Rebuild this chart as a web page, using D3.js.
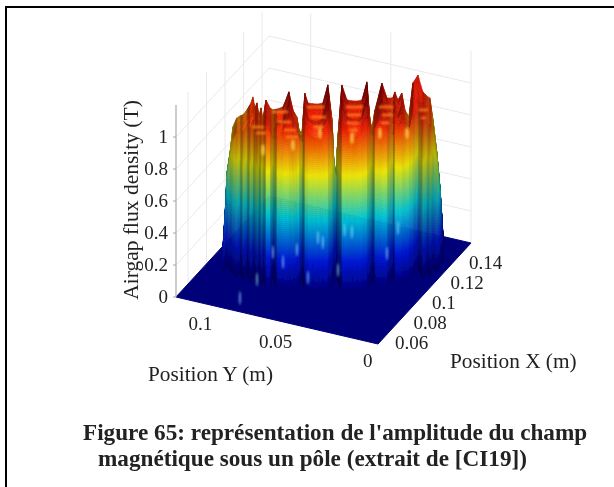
<!DOCTYPE html>
<html><head><meta charset="utf-8">
<script src="https://cdn.jsdelivr.net/npm/d3@7"></script>
<style>html,body{margin:0;padding:0;background:#fff}svg{display:block}text{font-family:"Liberation Serif","Times New Roman",serif;fill:#222}</style>
</head><body>
<svg id="chart" width="614" height="487"></svg>
<script>
// --- axis ranges & ticks ---
const domainX=[0.047,0.1475], domainY=[0,0.126], domainZ=[0,1.2];
const ticksX=[0.06,0.08,0.1,0.12,0.14], ticksY=[0,0.05,0.1], ticksZ=[0,0.2,0.4,0.6,0.8,1];
const colorMaxZ=1.15;
const titleZ="Airgap flux density (T)", titleX="Position X (m)", titleY="Position Y (m)";
const captionLines=["Figure 65: représentation de l'amplitude du champ","magnétique sous un pôle (extrait de [CI19])"];
// --- pole rim (foot of the wall), one entry per station ---
const rimX=[.0764,.0819,.0813,.0794,.0767,.0742,.0797,.0729,.0802,.0726,.0789,.0743,.0715,.0800,.0722,.0775,.0715,.0731,.0811,.0728,.0731,.0743,.0742,.0774,.0786,.0850,.0765,.0763,.0772,.0782,.0791,.0809,.0866,.0927,.0980,.0902,.0827,.0837,.0847,.0856,.0874,.0900,.0946,.0999,.0931,.0936,.0954,.1056,.0994,.1000,.1007,.1030,.1054,.1094,.1169,.1080,.1153,.1118,.1198,.1172,.1227,.1297,.1266];
const rimY=[.1137,.1150,.1140,.1110,.1076,.1037,.1050,.0992,.1009,.0946,.0964,.0925,.0896,.0933,.0875,.0894,.0840,.0824,.0852,.0779,.0743,.0713,.0687,.0681,.0675,.0693,.0626,.0606,.0580,.0554,.0529,.0508,.0515,.0538,.0556,.0499,.0431,.0405,.0380,.0354,.0333,.0317,.0325,.0343,.0285,.0244,.0223,.0245,.0197,.0181,.0161,.0155,.0144,.0142,.0154,.0072,.0089,.0050,.0077,.0038,.0051,.0078,.0054];
// --- depth of each row behind the rim ---
const rowShiftX=[0,.0008,.0049,.0098,.0148,.0197];
const rowShiftY=[0,.0005,.0028,.0057,.0085,.0114];
// --- flux density (T) at rows 1..5 behind the rim, per station ---
const fluxRows=[
[.125,.10,.06,.02,0],[.375,.353,.323,.294,.263],[.563,.537,.504,.471,.437],[.694,.672,.642,.613,.582],[.831,.824,.807,.790,.769],
[.906,.901,.885,.870,.85],[.881,.876,.860,.845,.825],[.925,.925,.915,.904,.888],[.919,.916,.902,.888,.869],[.95,.966,.967,.969,.963],
[.969,.981,.979,.978,.969],[.913,.932,.937,.942,.938],[.981,.997,.998,1.0,.994],[.906,.899,.882,.865,.844],[.95,.966,.967,.969,.963],
[.919,.91,.892,.873,.85],[1.013,1.028,1.03,1.031,1.025],[.963,.977,.977,.977,.969],[.856,.881,.89,.9,.9],[.95,.981,.962,.991,.975],
[.969,1.0,.981,1.01,.994],[1.069,1.086,1.09,1.093,1.088],[1.013,1.015,1.006,.997,.981],[.969,.966,.952,.938,.919],[.913,.899,.878,.856,.831],
[.856,.842,.818,.795,.769],[1.05,1.073,1.081,1.089,1.087],[.994,1.029,1.013,1.045,1.031],[.963,1.006,.996,1.034,1.026],[.956,1.001,.992,1.032,1.025],
[.994,1.029,1.013,1.045,1.031],[1.075,1.106,1.12,1.134,1.138],[.931,.928,.914,.9,.881],[.669,.643,.611,.578,.544],[.594,.568,.536,.503,.469],
[.869,.847,.817,.788,.757],[1.081,1.112,1.126,1.14,1.144],[1.006,1.043,1.028,1.062,1.05],[.963,1.011,1.006,1.049,1.044],[.963,1.011,1.006,1.049,1.044],
[1.0,1.037,1.022,1.056,1.044],[1.063,1.099,1.118,1.137,1.144],[.969,.953,.928,.903,.875],[.881,.861,.833,.805,.775],[.988,.99,.981,.972,.956],
[1.056,1.09,1.108,1.125,1.131],[.975,1.016,1.004,1.041,1.031],[.875,.913,.933,.954,.963],[1.006,1.031,1.04,1.05,1.05],[.956,.993,.978,1.012,1.0],
[1.006,1.029,1.037,1.045,1.043],[.956,.958,.949,.94,.925],[.919,.916,.902,.888,.869],[.994,1.025,1.039,1.053,1.057],[.981,1.015,1.033,1.05,1.056],
[1.006,1.023,1.027,1.03,1.025],[.931,.948,.952,.955,.95],[.938,.958,.965,.971,.969],[.844,.835,.817,.798,.775],[.706,.684,.654,.625,.594],
[.469,.443,.411,.378,.344],[.219,.191,.157,.123,.088],[.138,.11,.076,.04,0]];
// --- bright glints low on the wall ---
const glintX=[.0774,.0782,.0791,.0715,.0584,.0763,.0902,.1000,.0832,.0847,.0954,.0811,.0731];
const glintY=[.0681,.0554,.0529,.0896,.0927,.0606,.0499,.0181,.0418,.0380,.0223,.0852,.0743];
const glintZ=[.24,.34,.31,.04,0,.09,.075,.35,.39,.375,.21,.16,.175];
// --- secondary ridges (orange rungs) across the tooth tops ---
const rungX1=[.0712,.0726,.0735,.0739,.0779,.0787,.0792,.0853,.0855,.0855,.0859,.0916,.0922,.0920,.0674,.0682,.0993,.0996];
const rungY1=[.0795,.0759,.0733,.0723,.0615,.0594,.0579,.0415,.0410,.0410,.0399,.0245,.0230,.0235,.0898,.0877,.0040,.0029];
const rungX2=[.0739,.0745,.0754,.0758,.0808,.0811,.0808,.0882,.0878,.0874,.0872,.0939,.0939,.0932,.0693,.0697,.1006,.1002];
const rungY2=[.0723,.0707,.0682,.0672,.0538,.0528,.0538,.0338,.0348,.0358,.0363,.0184,.0184,.0204,.0846,.0836,.0004,.0014];
const rungZ=[1.113,1.05,1.0,.956,1.144,1.081,1.019,1.144,1.094,1.044,1.0,1.144,1.094,1.044,1.019,.981,1.125,1.075];
// --- warm hot spots just under the tooth tops ---
const hotX=[.0750,.0802,.0863,.0916,.0693,.0968];
const hotY=[.0692,.0553,.0389,.0245,.0846,.0106];
const hotZ=[.906,.981,.95,.981,.875,.981];

// --- scales: oblique projection of the axes box ---
const originPx=378, originPy=344;
const xPx=d3.scaleLinear().domain(domainX).range([0,93]);
const xPy=d3.scaleLinear().domain(domainX).range([0,-101]);
const yPx=d3.scaleLinear().domain(domainY).range([0,-202]);
const yPy=d3.scaleLinear().domain(domainY).range([0,-47]);
const zPy=d3.scaleLinear().domain(domainZ).range([0,-192]);
const project=(X,Y,Z)=>[originPx+xPx(X)+yPx(Y), originPy+xPy(X)+yPy(Y)+zPy(Z)];
const jet=d3.scaleLinear().domain([0,.16,.39,.63,.87,1].map(d=>d*colorMaxZ))
  .range(["#000078","#0018d8","#00c8d8","#f0e800","#f02000","#a00000"]).clamp(true);

const svg=d3.select("#chart");
const defs=svg.append("defs");
const blurFilter=(id,sd)=>defs.append("filter").attr("id",id).attr("x","-20%").attr("y","-20%").attr("width","140%").attr("height","140%")
  .append("feGaussianBlur").attr("stdDeviation",sd);
blurFilter("soft",.75);blurFilter("softer",.35);blurFilter("rung",.9);
defs.append("filter").attr("id","glow").attr("x","-300%").attr("y","-100%").attr("width","700%").attr("height","300%")
  .append("feGaussianBlur").attr("stdDeviation",1.0);
defs.append("clipPath").attr("id","frameClip").append("rect").attr("x",7).attr("y",9).attr("width",607).attr("height",478);

svg.append("rect").attr("x",0).attr("y",0).attr("width",614).attr("height",487).attr("fill","#fff");
svg.append("line").attr("x1",6).attr("x2",6).attr("y1",6).attr("y2",487).attr("stroke","#000").attr("stroke-width",2);
svg.append("line").attr("x1",5).attr("x2",614).attr("y1",7).attr("y2",7).attr("stroke","#000").attr("stroke-width",2);

// grid on the two back walls
const grid=svg.append("g").attr("clip-path","url(#frameClip)").append("g").attr("filter","url(#softer)")
  .attr("stroke","#e9e9e9").attr("stroke-width",1).attr("fill","none");
const seg=(a,b)=>grid.append("line").attr("x1",a[0]).attr("y1",a[1]).attr("x2",b[0]).attr("y2",b[1]);
ticksX.forEach(x=>seg(project(x,domainY[1],0),project(x,domainY[1],domainZ[1])));
ticksY.forEach(y=>seg(project(domainX[1],y,0),project(domainX[1],y,domainZ[1])));
ticksZ.forEach(z=>{seg(project(domainX[0],domainY[1],z),project(domainX[1],domainY[1],z));
  seg(project(domainX[1],domainY[1],z),project(domainX[1],domainY[0],z));});

// surface
const plot=svg.append("g").attr("filter","url(#soft)");
const floorCorners=[[domainX[0],domainY[1]],[domainX[0],domainY[0]],[domainX[1],domainY[0]],[domainX[1],domainY[1]]].map(c=>project(c[0],c[1],0));
plot.append("polygon").attr("points",floorCorners.join(" ")).attr("fill",jet(0)).attr("stroke",jet(0));

const nStations=rimX.length;
const vertex=(i,r)=>{
  const X=rimX[i]+rowShiftX[r], Y=rimY[i]+rowShiftY[r], Z=r===0?0:fluxRows[i][r-1];
  const p=project(X,Y,Z), f=project(X,Y,0);
  return {x:p[0],y:p[1],z:Z,w:[f[0],-f[1]*1.2,Z*160]};
};
const normL=v=>{const l=Math.hypot(...v)||1;return v.map(d=>d/l);};
const lightDir=normL([.15,-.75,.65]), viewDir=normL([0,-.9,.42]);
const halfDir=normL(lightDir.map((d,k)=>d+viewDir[k]));
function shadeOf(a,b,c){
  const u=a.w.map((d,k)=>b.w[k]-d), v=a.w.map((d,k)=>c.w[k]-d);
  let n=normL([u[1]*v[2]-u[2]*v[1],u[2]*v[0]-u[0]*v[2],u[0]*v[1]-u[1]*v[0]]);
  if(n[0]*viewDir[0]+n[1]*viewDir[1]+n[2]*viewDir[2]<0)n=n.map(d=>-d);
  const dl=Math.max(0,n[0]*lightDir[0]+n[1]*lightDir[1]+n[2]*lightDir[2]);
  const dh=Math.max(0,n[0]*halfDir[0]+n[1]*halfDir[1]+n[2]*halfDir[2]);
  return {k:Math.min(1,.56+.55*dl), s:.1*Math.pow(dh,60)};
}
function clipZ(poly,level,keepAbove){
  const out=[];
  poly.forEach((p,i)=>{
    const q=poly[(i+1)%poly.length];
    const pin=keepAbove?p.z>=level:p.z<=level, qin=keepAbove?q.z>=level:q.z<=level;
    if(pin)out.push(p);
    if(pin!==qin){const t=(level-p.z)/(q.z-p.z);out.push({x:p.x+t*(q.x-p.x),y:p.y+t*(q.y-p.y),z:level});}
  });
  return out;
}
const bandStep=.0125, bandEdges=d3.range(0,1.5,bandStep);
function drawTriangle(a,b,c){
  const {k,s}=shadeOf(a,b,c);
  const zs=[a.z,b.z,c.z], lo=d3.min(zs), hi=d3.max(zs);
  bandEdges.forEach(e=>{
    const top=e+bandStep;
    if(top<lo||e>hi)return;
    const poly=clipZ(clipZ([a,b,c],e,true),top,false);
    if(poly.length<3)return;
    const col=d3.rgb(jet(Math.max(lo,Math.min(hi,(e+top)/2))));
    const mix=v=>{const base=v*k;return Math.min(255,base+(255-base)*s);};
    const fill=d3.rgb(mix(col.r),mix(col.g),mix(col.b)).formatHex();
    plot.append("polygon").attr("points",poly.map(p=>p.x.toFixed(2)+","+p.y.toFixed(2)).join(" "))
      .attr("fill",fill).attr("stroke",fill).attr("stroke-width",.5);
  });
}
for(let r=rowShiftX.length-2;r>=0;r--){
  d3.range(nStations-1).sort((i,j)=>vertex(i,r).w[1]<vertex(j,r).w[1]?1:-1).forEach(i=>{
    const A=vertex(i,r),B=vertex(i+1,r),C=vertex(i+1,r+1),D=vertex(i,r+1);
    drawTriangle(A,B,C);drawTriangle(A,C,D);
  });
}
// rungs and hot spots
plot.append("g").attr("filter","url(#rung)").selectAll("line").data(rungZ).join("line")
  .attr("x1",(d,i)=>project(rungX1[i],rungY1[i],d)[0]).attr("y1",(d,i)=>project(rungX1[i],rungY1[i],d)[1])
  .attr("x2",(d,i)=>project(rungX2[i],rungY2[i],d)[0]).attr("y2",(d,i)=>project(rungX2[i],rungY2[i],d)[1])
  .attr("stroke","#ff8c1e").attr("stroke-width",2.6).attr("stroke-linecap","round").attr("opacity",.8);
plot.append("g").attr("filter","url(#glow)").selectAll("ellipse").data(hotZ).join("ellipse")
  .attr("cx",(d,i)=>project(hotX[i],hotY[i],d)[0]).attr("cy",(d,i)=>project(hotX[i],hotY[i],d)[1])
  .attr("rx",2).attr("ry",6).attr("fill","#ffd84a").attr("opacity",.7);
// glints
plot.append("g").attr("filter","url(#glow)").selectAll("ellipse").data(glintX).join("ellipse")
  .attr("cx",(d,i)=>project(glintX[i],glintY[i],glintZ[i])[0])
  .attr("cy",(d,i)=>project(glintX[i],glintY[i],glintZ[i])[1])
  .attr("rx",1).attr("ry",7).attr("fill","#8fe6ff").attr("opacity",.65);

// axes
const axis=svg.append("g").attr("filter","url(#softer)");
const zBase=project(domainX[0],domainY[1],domainZ[0]), zTop=project(domainX[0],domainY[1],domainZ[1]);
axis.append("line").attr("x1",zBase[0]).attr("y1",zBase[1]).attr("x2",zTop[0]).attr("y2",zTop[1]).attr("stroke","#aaa").attr("stroke-width",1.2);
const label=(txt,x,y,anchor,size)=>axis.append("text").attr("x",x).attr("y",y).attr("text-anchor",anchor).attr("font-size",size).text(txt);
ticksZ.forEach(z=>{
  const p=project(domainX[0],domainY[1],z);
  axis.append("line").attr("x1",p[0]).attr("y1",p[1]).attr("x2",p[0]-3).attr("y2",p[1]).attr("stroke","#aaa");
  label(String(z),p[0]-8,p[1]+6,"end",19);
});
ticksY.forEach(y=>{
  const p=project(domainX[0],y,0);
  label(String(y),p[0]-5.5,p[1]+23,"end",19);
});
ticksX.forEach(x=>{
  const p=project(x,domainY[0],0);
  label(String(x),p[0]+5,p[1]+18.5,"start",19);
});
label(titleY,148,381,"start",21.3);
label(titleX,450,368,"start",21.3);
axis.append("text").attr("transform","translate(138,200) rotate(-90)").attr("text-anchor","middle").attr("font-size",21.5).text(titleZ);

// caption
const cap=svg.append("g").attr("filter","url(#softer)");
cap.append("text").attr("x",83).attr("y",440).attr("font-weight","bold").attr("font-size",23.2).attr("fill","#111").text(captionLines[0]);
cap.append("text").attr("x",98).attr("y",466).attr("font-weight","bold").attr("font-size",23.2).attr("fill","#111").text(captionLines[1]);
</script>
</body></html>
